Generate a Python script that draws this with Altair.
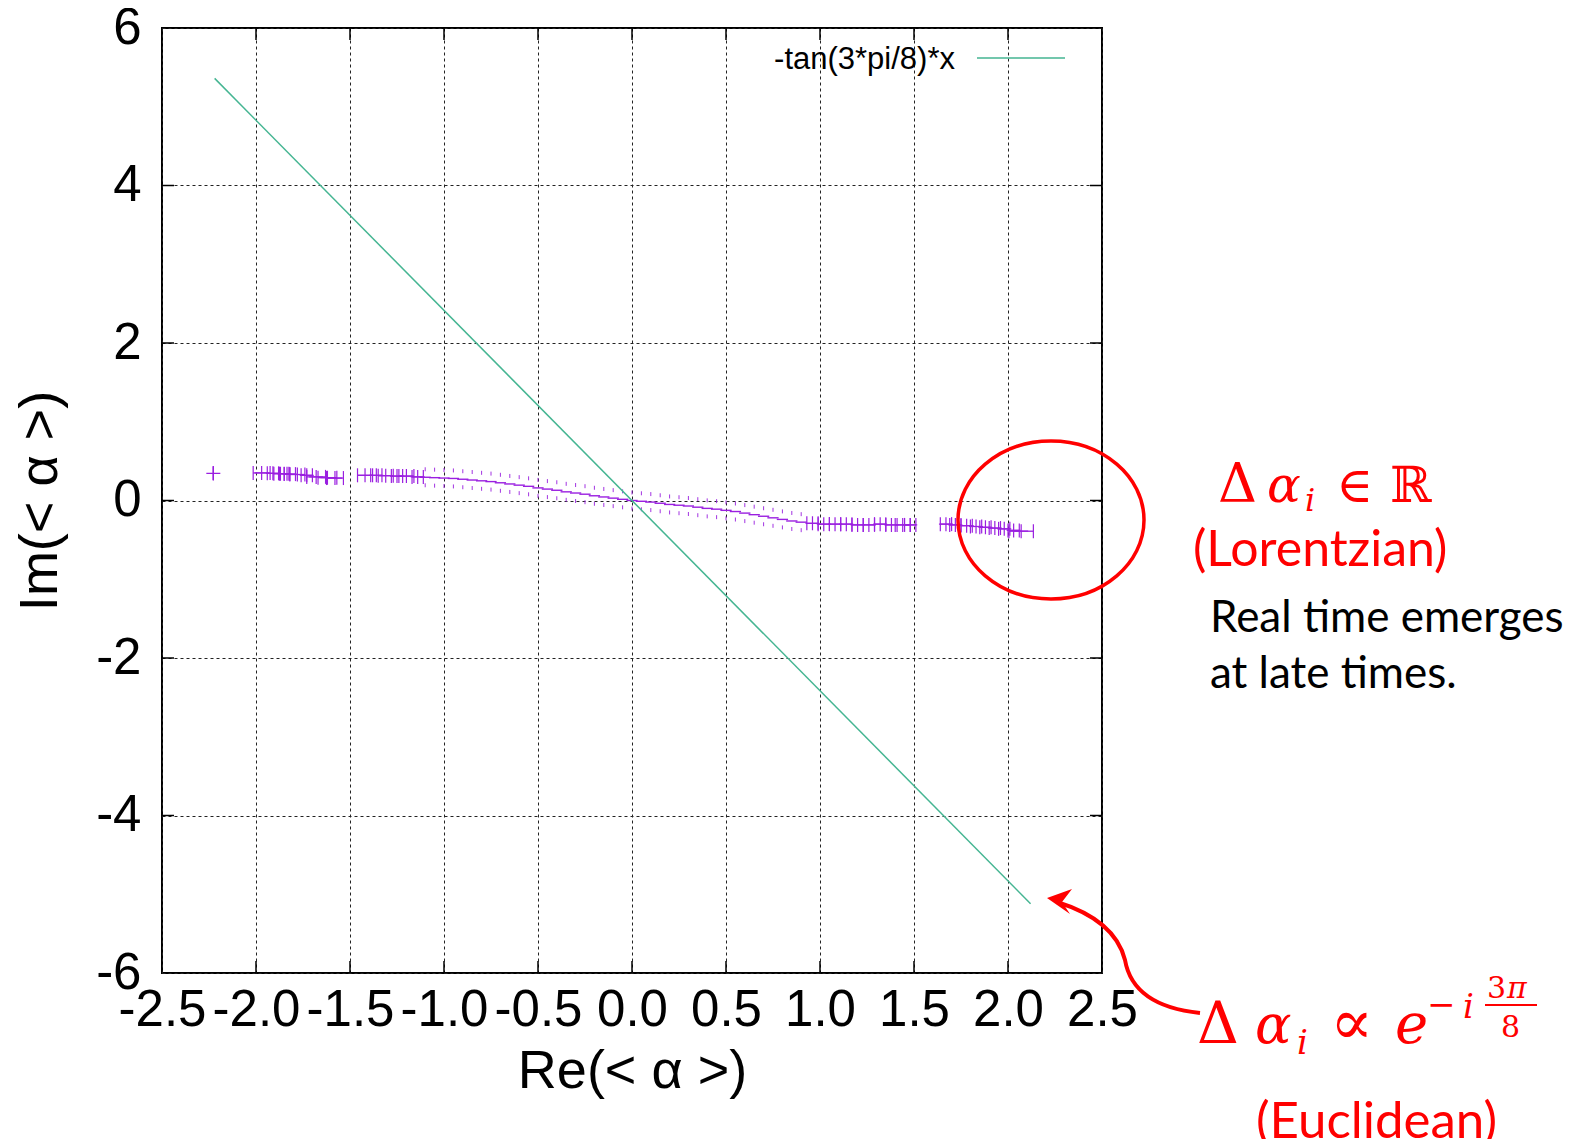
import altair as alt
import pandas as pd

# ---------------- data ----------------
x_ticks = [-2.5, -2.0, -1.5, -1.0, -0.5, 0.0, 0.5, 1.0, 1.5, 2.0, 2.5]
y_ticks = [-6, -4, -2, 0, 2, 4, 6]

# green reference line  -tan(3*pi/8)*x  (end points)
line_re = [-2.22, 2.12]
line_im = [5.36, -5.12]

# sparse points with horizontal error bars
sparse_re = [-2.227, -1.97, -1.91, -1.87, -1.85, -1.82, -1.78, -1.73, -1.68, -1.62, -1.58,
             -1.42, -1.36, -1.31, -1.25, -1.20, -1.14,
             0.96, 1.02, 1.08, 1.14, 1.20, 1.26, 1.32, 1.38, 1.44, 1.48,
             1.67, 1.72, 1.78, 1.83, 1.88, 1.93, 1.98, 2.03, 2.07]
sparse_im = [0.345, 0.35, 0.345, 0.34, 0.34, 0.335, 0.33, 0.32, 0.30, 0.29, 0.285,
             0.32, 0.32, 0.315, 0.31, 0.31, 0.30,
             -0.29, -0.30, -0.30, -0.30, -0.31, -0.31, -0.30, -0.31, -0.31, -0.31,
             -0.30, -0.31, -0.32, -0.33, -0.34, -0.35, -0.36, -0.38, -0.39]
sparse_err = [0.0, 0.045, 0.03, 0.035, 0.025, 0.03, 0.04, 0.03, 0.05, 0.05, 0.045,
              0.04, 0.03, 0.04, 0.03, 0.04, 0.03,
              0.03, 0.03, 0.03, 0.03, 0.03, 0.03, 0.03, 0.03, 0.04, 0.03,
              0.03, 0.03, 0.03, 0.03, 0.03, 0.03, 0.03, 0.03, 0.065]

# dense middle points
dense_re = [-1.10, -1.05, -1.00, -0.95, -0.90, -0.85, -0.80, -0.75, -0.70, -0.65, -0.60,
            -0.55, -0.50, -0.45, -0.40, -0.35, -0.30, -0.25, -0.20, -0.15, -0.10, -0.05,
            0.00, 0.05, 0.10, 0.15, 0.20, 0.25, 0.30, 0.35, 0.40, 0.45, 0.50, 0.55,
            0.60, 0.65, 0.70, 0.75, 0.80, 0.85, 0.90]
dense_im = [0.295, 0.29, 0.285, 0.28, 0.27, 0.26, 0.25, 0.24, 0.225, 0.21, 0.195,
            0.18, 0.16, 0.145, 0.13, 0.11, 0.095, 0.08, 0.06, 0.045, 0.03, 0.015,
            0.00, -0.01, -0.02, -0.035, -0.05, -0.06, -0.07, -0.085, -0.10, -0.11, -0.125, -0.14,
            -0.16, -0.18, -0.20, -0.22, -0.24, -0.26, -0.275]
dense_err = [0.03] * len(dense_re)

# ---------------- layout / style ----------------
W, H = 940, 945
OX, OY = 162, 28
PURPLE = "#9a1fe0"
GREEN = "#45b592"
RED = "#ff0000"
FONT = "Liberation Sans"
SERIF = "DejaVu Serif"
HYPHEN = "replace(datum.label, '\u2212', '-')"

xscale = alt.Scale(domain=[-2.5, 2.5], nice=False, zero=False)
yscale = alt.Scale(domain=[-6, 6], nice=False, zero=False)
xaxis = alt.Axis(values=x_ticks, format=".1f", labelExpr=HYPHEN, title="Re(< α >)", grid=True, ticks=False,
                 tickSize=0, domain=False, labelFont=FONT, labelFontSize=51, labelColor="black",
                 labelPadding=12, labelOverlap=False, labelFlush=False, titleFont=FONT,
                 titleFontSize=54, titleFontWeight="normal", titleColor="black", titlePadding=9,
                 gridDash=[3, 3], gridColor="#222222", gridWidth=1, gridOpacity=1)
yaxis = alt.Axis(values=y_ticks, format="d", labelExpr=HYPHEN, title="Im(< α >)", grid=True, ticks=False,
                 tickSize=0, domain=False, labelFont=FONT, labelFontSize=51, labelColor="black",
                 labelPadding=21, labelOverlap=False, labelFlush=False, titleFont=FONT,
                 titleFontSize=54, titleFontWeight="normal", titleColor="black", titlePadding=28,
                 gridDash=[3, 3], gridColor="#222222", gridWidth=1, gridOpacity=1)


def X(f):
    return alt.X(f, type="quantitative", scale=xscale, axis=xaxis)


def Y(f):
    return alt.Y(f, type="quantitative", scale=yscale, axis=yaxis)


sparse = pd.DataFrame({"re": sparse_re, "im": sparse_im, "err": sparse_err})
dense = pd.DataFrame({"re": dense_re, "im": dense_im, "err": dense_err})
green = pd.DataFrame({"re": line_re, "im": line_im})
xt = pd.DataFrame({"v": x_ticks[1:-1]})
yt = pd.DataFrame({"v": y_ticks[1:-1]})

base_sparse = alt.Chart(sparse).transform_calculate(lo="datum.re - datum.err", hi="datum.re + datum.err")
base_dense = alt.Chart(dense).transform_calculate(lo="datum.re - datum.err", hi="datum.re + datum.err")

layers = []
# inward ticks
layers.append(alt.Chart(xt).mark_rule(color="black", strokeWidth=1.5).encode(x=X("v"), y=alt.value(0), y2=alt.value(12)))
layers.append(alt.Chart(xt).mark_rule(color="black", strokeWidth=1.5).encode(x=X("v"), y=alt.value(H - 12), y2=alt.value(H)))
layers.append(alt.Chart(yt).mark_rule(color="black", strokeWidth=1.5).encode(y=Y("v"), x=alt.value(0), x2=alt.value(12)))
layers.append(alt.Chart(yt).mark_rule(color="black", strokeWidth=1.5).encode(y=Y("v"), x=alt.value(W - 12), x2=alt.value(W)))

# purple data
layers.append(base_sparse.mark_rule(color=PURPLE, strokeWidth=1.3).encode(x=X("lo"), x2="hi:Q", y=Y("im")))
layers.append(base_sparse.mark_point(shape="M0,-1V1", size=196, filled=False, color=PURPLE, strokeWidth=1.2, opacity=1)
              .encode(x=X("lo"), y=Y("im")))
layers.append(base_sparse.mark_point(shape="M0,-1V1", size=196, filled=False, color=PURPLE, strokeWidth=1.2, opacity=1)
              .encode(x=X("hi"), y=Y("im")))
layers.append(base_sparse.mark_point(shape="M-1,0H1M0,-1V1", size=196, filled=False, color=PURPLE, strokeWidth=1.2, opacity=1)
              .encode(x=X("re"), y=Y("im")))
layers.append(base_dense.mark_rule(color=PURPLE, strokeWidth=1.4).encode(x=X("lo"), x2="hi:Q", y=Y("im")))
for off in (-8, 8):
    layers.append(alt.Chart(dense).mark_point(shape="M0,-1V1", size=16, filled=False, color=PURPLE,
                                              strokeWidth=1, opacity=0.9, yOffset=off)
                  .encode(x=X("re"), y=Y("im")))

# green line
layers.append(alt.Chart(green).mark_line(color=GREEN, strokeWidth=1.5).encode(x=X("re"), y=Y("im")))

# legend
one = alt.Data(values=[{}])
layers.append(alt.Chart(one).mark_text(text="-tan(3*pi/8)*x", font=FONT, fontSize=31, color="black",
                                       align="right", baseline="alphabetic")
              .encode(x=alt.value(955 - OX), y=alt.value(69 - OY)))
layers.append(alt.Chart(one).mark_rule(color=GREEN, strokeWidth=1.5)
              .encode(x=alt.value(977 - OX), x2=alt.value(1065 - OX), y=alt.value(58 - OY)))


def txt(t, x, y, size, color=RED, font=SERIF, style="normal"):
    return alt.Chart(one).mark_text(text=t, font=font, fontSize=size, color=color, fontStyle=style,
                                    align="left", baseline="alphabetic").encode(
        x=alt.value(x - OX), y=alt.value(y - OY))


# red ellipse
layers.append(alt.Chart(one).mark_point(shape="M-93,0A93,79 0 1,0 93,0A93,79 0 1,0 -93,0Z", size=4,
                                        filled=False, color=RED, strokeWidth=3.5, opacity=1)
              .encode(x=alt.value(1051 - OX), y=alt.value(520 - OY)))
# curved arrow
layers.append(alt.Chart(one).mark_point(shape="M10,4Q68,22 78,62Q86,108 153,115", size=4,
                                        filled=False, color=RED, strokeWidth=4, opacity=1)
              .encode(x=alt.value(1047 - OX), y=alt.value(898 - OY)))
layers.append(alt.Chart(one).mark_point(shape="M0,0L25,-9L15,4L23,16Z", size=4,
                                        filled=True, color=RED, opacity=1)
              .encode(x=alt.value(1047 - OX), y=alt.value(898 - OY)))

# annotations
layers += [
    txt("Δ", 1218, 502, 54),
    txt("α", 1267, 502, 50, style="italic"),
    txt("i", 1305, 511, 32, style="italic"),
    txt("∈", 1336, 502, 50),
    txt("ℝ", 1390, 502, 50),
    txt("(Lorentzian)", 1193, 566, 50, font="Lato"),
    txt("Real time emerges", 1210, 632, 44, color="black", font="Lato"),
    txt("at late times.", 1210, 688, 44, color="black", font="Lato"),
    txt("Δ", 1197, 1043, 58),
    txt("α", 1255, 1043, 54, style="italic"),
    txt("i", 1297, 1054, 34, style="italic"),
    txt("∝", 1330, 1044, 64),
    txt("e", 1395, 1043, 56, style="italic"),
    txt("−", 1427, 1016, 34),
    txt("i", 1463, 1018, 34, style="italic"),
    txt("3", 1487, 998, 30),
    txt("π", 1507, 998, 30, style="italic"),
    txt("8", 1501, 1037, 30),
    txt("(Euclidean)", 1256, 1138, 51, font="Lato"),
]
layers.append(alt.Chart(one).mark_rule(color=RED, strokeWidth=2)
              .encode(x=alt.value(1485 - OX), x2=alt.value(1537 - OX), y=alt.value(1005 - OY)))

chart = alt.layer(*layers).properties(
    width=W, height=H,
    padding={"left": OX - 8, "top": OY - 8, "right": 470, "bottom": 166},
    autosize=alt.AutoSizeParams(type="none"),
).configure_view(stroke="black", strokeWidth=2)

chart.save("out.html", embed_options={"renderer": "svg", "actions": False})
